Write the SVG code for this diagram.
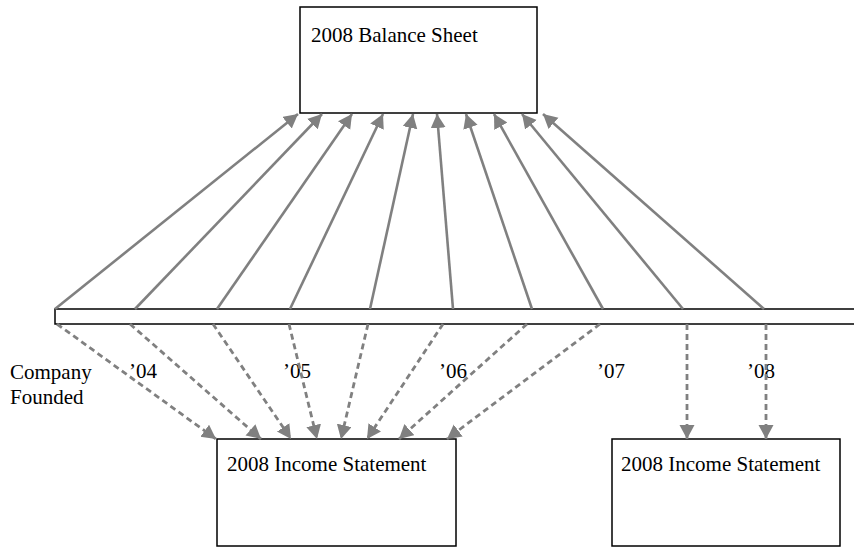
<svg xmlns="http://www.w3.org/2000/svg" width="854" height="547" viewBox="0 0 854 547">
<style>
.box{fill:#fff;stroke:#000;stroke-width:1.5}
.t{font-family:"Liberation Serif","Times New Roman",serif;font-size:21px;fill:#000}
.up{stroke:#808080;stroke-width:2.6;fill:none;marker-end:url(#ah)}
.dn{stroke:#808080;stroke-width:2.8;fill:none;stroke-dasharray:6 4;marker-end:url(#ah)}
</style>
<defs>
<marker id="ah" markerUnits="userSpaceOnUse" markerWidth="16" markerHeight="16" refX="14" refY="7.5" orient="auto">
<path d="M0,0 L14,7.5 L0,15 z" fill="#808080"/>
</marker>
</defs>
<rect width="854" height="547" fill="#fff"/>
<g id="timeline">
<rect class="box" x="55" y="309" width="810" height="15"/>
</g>
<g id="balance-sheet">
<rect class="box" x="300" y="7" width="237" height="106"/>
<text class="t" x="311" y="42">2008 Balance Sheet</text>
</g>
<g id="income-statement-1">
<rect class="box" x="217" y="439" width="239" height="107"/>
<text class="t" x="227" y="471">2008 Income Statement</text>
</g>
<g id="income-statement-2">
<rect class="box" x="612" y="439" width="228" height="107"/>
<text class="t" x="621" y="471">2008 Income Statement</text>
</g>
<g id="labels">
<text class="t" x="10" y="379">Company</text>
<text class="t" x="10" y="404">Founded</text>
<text class="t" x="129" y="378">’04</text>
<text class="t" x="283" y="378">’05</text>
<text class="t" x="439" y="378">’06</text>
<text class="t" x="597" y="378">’07</text>
<text class="t" x="747" y="378">’08</text>
</g>
<g id="connectors">
<line class="up" x1="55" y1="309" x2="298" y2="114"/>
<line class="up" x1="135" y1="309" x2="322" y2="114"/>
<line class="up" x1="217" y1="309" x2="352" y2="114"/>
<line class="up" x1="290" y1="309" x2="383" y2="114"/>
<line class="up" x1="370" y1="309" x2="413" y2="114"/>
<line class="up" x1="453" y1="309" x2="437" y2="114"/>
<line class="up" x1="532" y1="309" x2="466" y2="114"/>
<line class="up" x1="603" y1="309" x2="494" y2="114"/>
<line class="up" x1="683" y1="309" x2="522" y2="114"/>
<line class="up" x1="764" y1="309" x2="543" y2="114"/>
<line class="dn" x1="57" y1="324" x2="216" y2="439"/>
<line class="dn" x1="130" y1="324" x2="261" y2="439"/>
<line class="dn" x1="213" y1="324" x2="291" y2="439"/>
<line class="dn" x1="289" y1="324" x2="317" y2="439"/>
<line class="dn" x1="368" y1="324" x2="341" y2="439"/>
<line class="dn" x1="443" y1="324" x2="367" y2="439"/>
<line class="dn" x1="527" y1="324" x2="399" y2="439"/>
<line class="dn" x1="600" y1="324" x2="447" y2="439"/>
<line class="dn" x1="687" y1="324" x2="687" y2="439"/>
<line class="dn" x1="766" y1="324" x2="766" y2="439"/>
</g>
</svg>
